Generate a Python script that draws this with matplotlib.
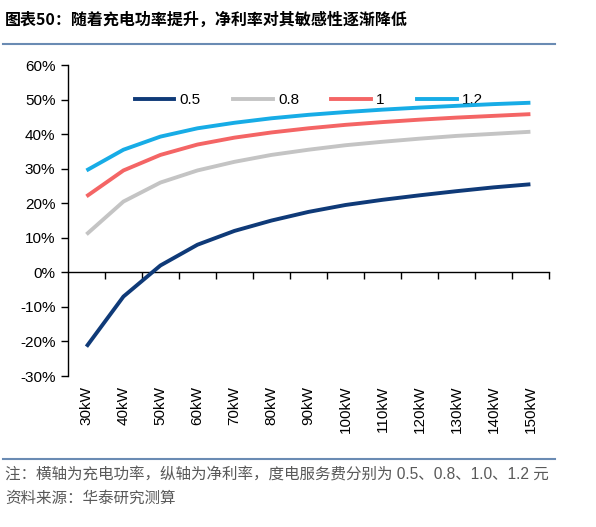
import matplotlib.pyplot as plt
from matplotlib.lines import Line2D
from matplotlib.ticker import FuncFormatter, FixedLocator

plt.rcParams['font.family'] = ['Liberation Sans', 'Noto Sans CJK SC', 'DejaVu Sans']

categories = ["30kW", "40kW", "50kW", "60kW", "70kW", "80kW", "90kW",
              "100kW", "110kW", "120kW", "130kW", "140kW", "150kW"]
fee_labels = ["0.5", "0.8", "1", "1.2"]
margin_05 = [-21.5, -7.0, 2.0, 8.0, 12.0, 15.0, 17.5, 19.5, 21.0, 22.3, 23.5, 24.6, 25.5]
margin_08 = [11.0, 20.5, 26.0, 29.5, 32.0, 34.0, 35.5, 36.8, 37.8, 38.7, 39.5, 40.1, 40.7]
margin_10 = [22.0, 29.5, 34.0, 37.0, 39.0, 40.5, 41.7, 42.7, 43.5, 44.2, 44.8, 45.3, 45.8]
margin_12 = [29.5, 35.5, 39.3, 41.7, 43.3, 44.6, 45.6, 46.4, 47.1, 47.7, 48.2, 48.7, 49.1]
colors = ["#0f3a78", "#c4c4c4", "#f46565", "#17ace6"]

fig = plt.figure(figsize=(5.96, 5.27), dpi=100)
ax = fig.add_axes([0.114, 0.2865, 0.807, 0.59])

x = list(range(len(categories)))

# legend first so the data lines are drawn over it, as in the original
handles = [Line2D([], [], color=c, lw=2.8) for c in colors]
leg = ax.legend(handles, fee_labels, loc="center left", bbox_to_anchor=(0.226, 0.81),
                bbox_transform=fig.transFigure, ncol=4, frameon=False, fontsize=11,
                handlelength=2.6, handletextpad=0.35, columnspacing=2.1,
                borderpad=0, borderaxespad=0)
leg.set_zorder(1)

for vals, lab, c in zip([margin_05, margin_08, margin_10, margin_12], fee_labels, colors):
    ax.plot(x, vals, color=c, lw=2.8, label=lab, solid_capstyle="butt", zorder=3)

ax.set_xlim(-0.5, len(categories) - 0.5)
ax.set_ylim(-30, 60)
ax.set_yticks(range(-30, 61, 10))
ax.yaxis.set_major_formatter(FuncFormatter(lambda v, p: f"{v:.0f}%"))
ax.tick_params(axis="y", direction="out", length=5, width=1, labelsize=11, pad=4)

for s in ["top", "right"]:
    ax.spines[s].set_visible(False)
ax.spines["left"].set_linewidth(1)
ax.spines["bottom"].set_position(("data", 0))
ax.spines["bottom"].set_linewidth(1)
ax.set_xticks([])
ax.xaxis.set_minor_locator(FixedLocator([i + 0.5 for i in x]))
ax.tick_params(axis="x", which="minor", direction="out", length=5, width=1)

sec = ax.secondary_xaxis(location=0)
sec.set_xticks(x)
sec.set_xticklabels(categories, rotation=90)
sec.tick_params(length=0, labelsize=11, pad=7)
sec.spines["bottom"].set_visible(False)

fig.text(0.008, 0.962, "图表50：随着充电功率提升，净利率对其敏感性逐渐降低",
         fontsize=11.5, fontweight="bold", va="center", ha="left",
         family=["Noto Sans CJK SC", "DejaVu Sans"])
fig.add_artist(Line2D([0.005, 0.932], [0.917, 0.917], color="#6a8bb3", lw=1.5))
fig.add_artist(Line2D([0.005, 0.932], [0.129, 0.129], color="#6a8bb3", lw=1.5))
fig.text(0.008, 0.100, "注：横轴为充电功率，纵轴为净利率，度电服务费分别为 0.5、0.8、1.0、1.2 元",
         fontsize=11.2, color="#595959", va="center", ha="left")
fig.text(0.008, 0.055, "资料来源：华泰研究测算",
         fontsize=11.2, color="#595959", va="center", ha="left")

fig.savefig("out.png", dpi=100)
